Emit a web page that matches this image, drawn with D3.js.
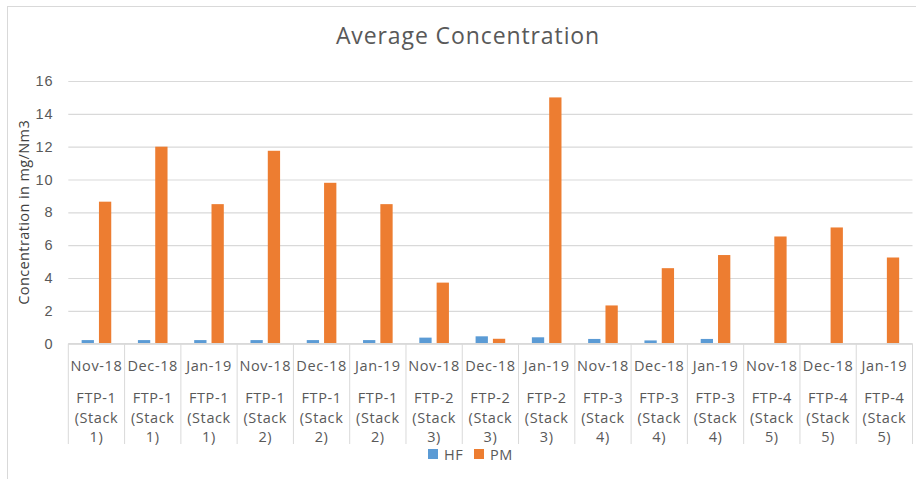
<!DOCTYPE html>
<html>
<head>
<meta charset="utf-8">
<script src="https://cdn.jsdelivr.net/npm/d3@7"></script>
<style>
  body { margin: 0; background: #fff; }
  svg { display: block; font-family: "Open Sans", sans-serif; }
  .tick text { fill: #595959; }
</style>
</head>
<body>
<svg id="chart" width="916" height="479"></svg>
<script>
// chart data
let months = ["Nov-18", "Dec-18", "Jan-19", "Nov-18", "Dec-18", "Jan-19", "Nov-18", "Dec-18", "Jan-19",
    "Nov-18", "Dec-18", "Jan-19", "Nov-18", "Dec-18", "Jan-19"];
let groups = ["FTP-1", "FTP-1", "FTP-1", "FTP-1", "FTP-1", "FTP-1", "FTP-2", "FTP-2", "FTP-2",
    "FTP-3", "FTP-3", "FTP-3", "FTP-4", "FTP-4", "FTP-4"];
let stacks = ["1)", "1)", "1)", "2)", "2)", "2)", "3)", "3)", "3)", "4)", "4)", "4)", "5)", "5)", "5)"];
let seriesNames = ["HF", "PM"];
let hfValues = [0.22, 0.22, 0.22, 0.22, 0.22, 0.22, 0.37, 0.45, 0.39, 0.29, 0.2, 0.29, 0, 0, 0];
let pmValues = [8.65, 12.0, 8.5, 11.75, 9.8, 8.5, 3.72, 0.3, 15.0, 2.33, 4.6, 5.4, 6.53, 7.08, 5.25];
let yTicks = [0, 2, 4, 6, 8, 10, 12, 14, 16];

let colors = { HF: "#5B9BD5", PM: "#ED7D31" };
let grid = "#d9d9d9", textCol = "#595959";

let svg = d3.select("#chart");

let plot = { left: 68.3, right: 912.5, top: 81, bottom: 343.7 };

let rows = months.map(function(m, i) {
    return { i: i, month: m, group: groups[i], stack: stacks[i], HF: hfValues[i], PM: pmValues[i] };
});

let x0 = d3.scaleBand().domain(rows.map(function(d) { return d.i; }))
    .range([plot.left, plot.right]).padding(0);
let x1 = d3.scaleBand().domain(seriesNames).range([0, x0.bandwidth()])
    .paddingInner(0.29).paddingOuter(0.77);
let y = d3.scaleLinear().domain([0, 16]).range([plot.bottom, plot.top]);

// outer frame
svg.append("rect")
    .attr("x", 7.5).attr("y", 6.5).attr("width", 950).attr("height", 500)
    .attr("fill", "none").attr("stroke", grid).attr("stroke-width", 1);

// title
svg.append("text")
    .attr("x", 468).attr("y", 44)
    .attr("text-anchor", "middle")
    .attr("fill", textCol)
    .style("font-size", "23px")
    .style("letter-spacing", "0.9px")
    .text("Average Concentration");

// y axis + gridlines
let yAxis = svg.append("g")
    .attr("transform", "translate(" + plot.left + ",0)")
    .call(d3.axisLeft(y).tickValues(yTicks).tickSize(-(plot.right - plot.left)).tickPadding(15));
yAxis.select(".domain").remove();
yAxis.selectAll(".tick line").attr("stroke", grid).attr("stroke-width", 1.2);
yAxis.selectAll(".tick text").style("font-size", "14.5px").style("letter-spacing", "0.8px");

svg.append("text")
    .attr("transform", "translate(29," + (plot.top + plot.bottom) / 2 + ") rotate(-90)")
    .attr("text-anchor", "middle")
    .attr("fill", "#404040")
    .style("font-size", "14.5px")
    .style("letter-spacing", "0.4px")
    .text("Concentration in mg/Nm3");

// bars
let cat = svg.append("g").selectAll("g")
    .data(rows)
    .join("g")
    .attr("transform", function(d) { return "translate(" + x0(d.i) + ",0)"; });

cat.selectAll("rect")
    .data(function(d) { return seriesNames.map(function(s) { return { key: s, value: d[s] }; }); })
    .join("rect")
    .attr("x", function(d) { return x1(d.key); })
    .attr("y", function(d) { return y(d.value); })
    .attr("width", x1.bandwidth())
    .attr("height", function(d) { return y(0) - y(d.value); })
    .attr("fill", function(d) { return colors[d.key]; });

// category axis line and separators
svg.append("line")
    .attr("x1", plot.left).attr("x2", plot.right)
    .attr("y1", plot.bottom).attr("y2", plot.bottom)
    .attr("stroke", grid).attr("stroke-width", 1.5);

let bounds = rows.map(function(d) { return x0(d.i); }).concat([plot.right]);
svg.append("g").selectAll("line")
    .data(bounds)
    .join("line")
    .attr("x1", function(d) { return d; }).attr("x2", function(d) { return d; })
    .attr("y1", plot.bottom).attr("y2", 444)
    .attr("stroke", grid).attr("stroke-width", 1);

// category labels
let labels = svg.append("g").selectAll("text")
    .data(rows)
    .join("text")
    .attr("x", function(d) { return x0(d.i) + x0.bandwidth() / 2; })
    .attr("text-anchor", "middle")
    .attr("fill", textCol)
    .style("font-size", "14.5px")
    .style("letter-spacing", "0.6px");

labels.each(function(d) {
    let t = d3.select(this);
    let cx = x0(d.i) + x0.bandwidth() / 2;
    t.append("tspan").attr("x", cx).attr("y", 371).text(d.month);
    t.append("tspan").attr("x", cx).attr("y", 403).text(d.group);
    t.append("tspan").attr("x", cx).attr("y", 422.5).text("(Stack");
    t.append("tspan").attr("x", cx).attr("y", 442).text(d.stack);
});

// legend
let legend = svg.append("g").selectAll("g")
    .data(seriesNames)
    .join("g")
    .attr("transform", function(d, i) { return "translate(" + (428 + i * 46) + ",449)"; });
legend.append("rect")
    .attr("width", 10).attr("height", 10)
    .attr("fill", function(d) { return colors[d]; });
legend.append("text")
    .attr("x", 16).attr("y", 10.5)
    .attr("fill", textCol)
    .style("font-size", "14.5px")
    .style("letter-spacing", "0.5px")
    .text(function(d) { return d; });
</script>
</body>
</html>
